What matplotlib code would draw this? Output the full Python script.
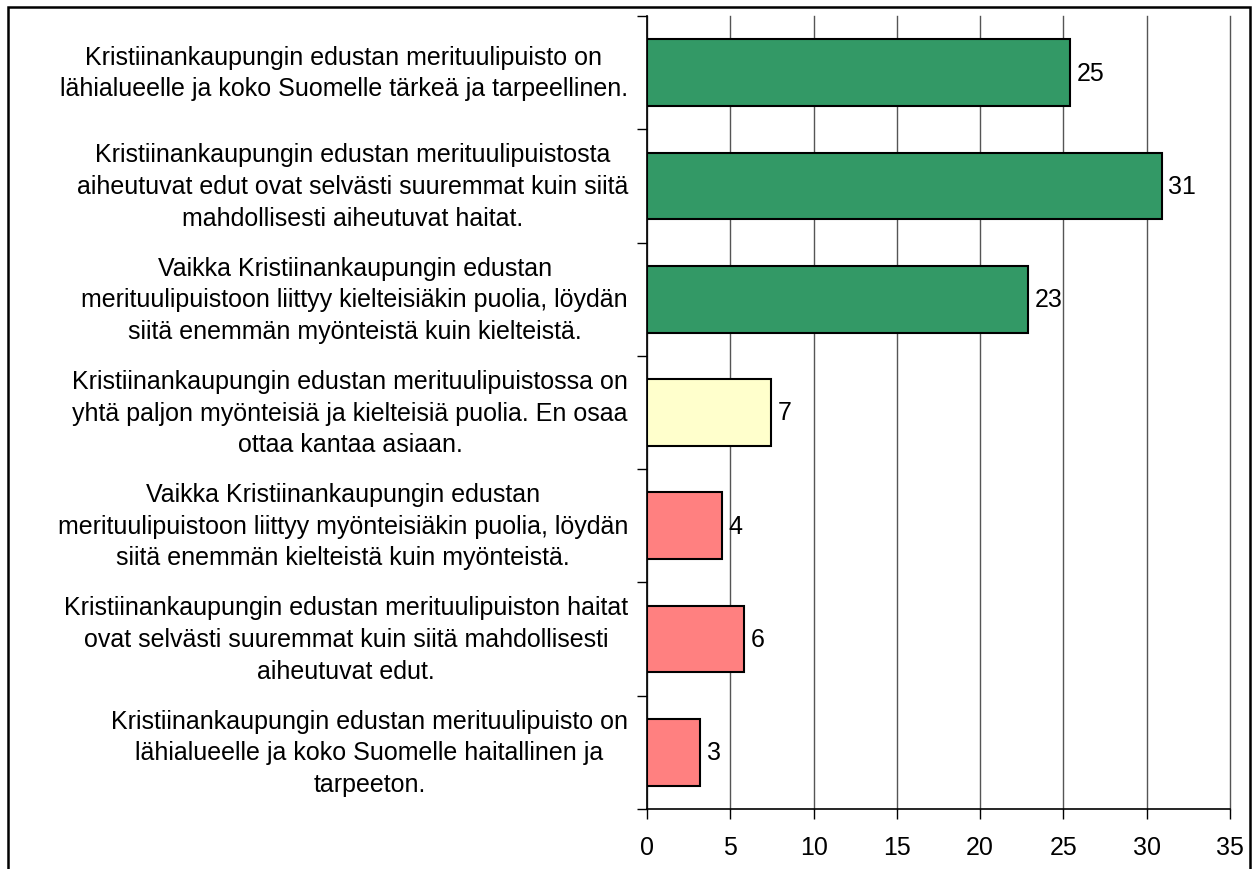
import matplotlib
matplotlib.use("Agg")
import matplotlib.pyplot as plt
from matplotlib.patches import Rectangle

plt.rcParams['font.family'] = ['Liberation Sans', 'DejaVu Sans']

# statements, top to bottom
statements = [
    "Kristiinankaupungin edustan merituulipuisto on\nlähialueelle ja koko Suomelle tärkeä ja tarpeellinen.",
    "Kristiinankaupungin edustan merituulipuistosta\naiheutuvat edut ovat selvästi suuremmat kuin siitä\nmahdollisesti aiheutuvat haitat.",
    "Vaikka Kristiinankaupungin edustan\nmerituulipuistoon liittyy kielteisiäkin puolia, löydän\nsiitä enemmän myönteistä kuin kielteistä.",
    "Kristiinankaupungin edustan merituulipuistossa on\nyhtä paljon myönteisiä ja kielteisiä puolia. En osaa\nottaa kantaa asiaan.",
    "Vaikka Kristiinankaupungin edustan\nmerituulipuistoon liittyy myönteisiäkin puolia, löydän\nsiitä enemmän kielteistä kuin myönteistä.",
    "Kristiinankaupungin edustan merituulipuiston haitat\novat selvästi suuremmat kuin siitä mahdollisesti\naiheutuvat edut.",
    "Kristiinankaupungin edustan merituulipuisto on\nlähialueelle ja koko Suomelle haitallinen ja\ntarpeeton.",
]
values = [25.4, 30.9, 22.9, 7.45, 4.5, 5.8, 3.2]
value_labels = ["25", "31", "23", "7", "4", "6", "3"]
colors = ["#339966", "#339966", "#339966", "#FFFFCC", "#FF8080", "#FF8080", "#FF8080"]
xticks = [0, 5, 10, 15, 20, 25, 30, 35]

FS = 18

fig = plt.figure(figsize=(12.6, 8.7), dpi=100)
ax = fig.add_axes([647 / 1260, 1 - 810 / 870, 583 / 1260, 793 / 870])

ypos = list(range(len(values)))
ax.barh(ypos, values, height=0.59, color=colors, edgecolor='black', linewidth=1.5, zorder=3)
ax.set_ylim(len(values) - 0.5, -0.5)
ax.set_xlim(0, 35)

ax.set_xticks(xticks)
ax.set_xticklabels([str(t) for t in xticks], fontsize=FS)
ax.tick_params(axis='x', direction='out', length=7, width=1, pad=12)
ax.set_yticks([i - 0.5 for i in range(len(values) + 1)])
ax.set_yticklabels([])
ax.tick_params(axis='y', direction='out', length=7, width=1)

ax.xaxis.grid(True, color='#555555', linewidth=1, zorder=0)
for gl in ax.get_xgridlines():
    gl.set_clip_on(False)
for s in ['top', 'right']:
    ax.spines[s].set_visible(False)
ax.spines['left'].set_linewidth(1.2)
ax.spines['bottom'].set_linewidth(1.2)

for y, v, lab in zip(ypos, values, value_labels):
    ax.text(v + 0.4, y, lab, va='center', ha='left', fontsize=FS, zorder=4)

for y, txt in zip(ypos, statements):
    ax.annotate(txt, xy=(0, y), xycoords=('axes fraction', 'data'),
                xytext=(-19, 0), textcoords='offset pixels',
                ha='right', va='center', multialignment='center',
                fontsize=FS, linespacing=1.4)

# outer frame
fig.patches.append(Rectangle((8 / 1260, -0.05), 1242 / 1260, 1.05 - 8 / 870,
                             transform=fig.transFigure, fill=False,
                             edgecolor='black', linewidth=1.8))

fig.savefig("out.png", dpi=100)
